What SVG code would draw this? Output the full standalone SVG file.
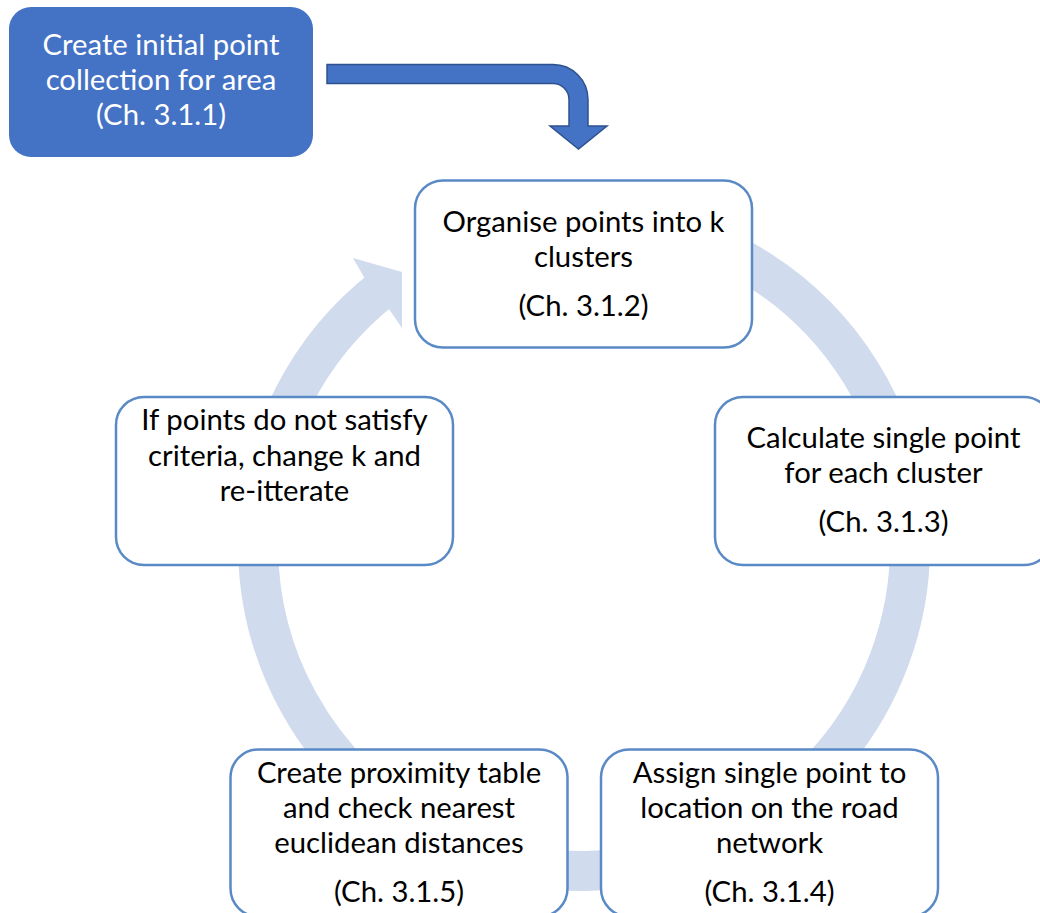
<svg xmlns="http://www.w3.org/2000/svg" width="1040" height="913" viewBox="0 0 1040 913">
<style>
.box{fill:#fff;stroke:#5A8AC6;stroke-width:2.5}
.t{font-family:Lato,"Liberation Sans",sans-serif;font-size:29.3px;fill:#000;text-anchor:middle}
.w{fill:#fff}
.ring{fill:none;stroke:#D0DBEE;stroke-width:40}
</style>
<rect width="1040" height="913" fill="#fff"/>
<g id="connectors">
<path class="ring" d="M612.4 220.2 A326 326 0 1 1 383.3 288.1"/>
<polygon fill="#D0DBEE" points="364,277 353,258 402,272 402,328 389,309"/>
<path d="M327 64.5 H553 A35 35 0 0 1 588 99.5 V126 H607 L578.5 149 L550 126 H569 V99.5 A16 16 0 0 0 553 83.5 H327 Z" fill="#4472C4" stroke="#2F528F" stroke-width="1.5"/>
</g>
<g id="start">
<rect x="9" y="7" width="304" height="150" rx="22" fill="#4472C4"/>
<text class="t w" x="161" y="55">Create initial point</text>
<text class="t w" x="161" y="90">collection for area</text>
<text class="t w" x="161" y="125">(Ch. 3.1.1)</text>
</g>
<g id="organise">
<rect class="box" x="415" y="180.5" width="337" height="167" rx="28"/>
<text class="t" x="583.5" y="231.5">Organise points into k</text>
<text class="t" x="583.5" y="267">clusters</text>
<text class="t" x="583.5" y="315.5">(Ch. 3.1.2)</text>
</g>
<g id="calculate">
<rect class="box" x="715" y="397" width="337" height="168" rx="28"/>
<text class="t" x="883.5" y="448.3">Calculate single point</text>
<text class="t" x="883.5" y="483.3">for each cluster</text>
<text class="t" x="883.5" y="531.7">(Ch. 3.1.3)</text>
</g>
<g id="assign">
<rect class="box" x="601" y="749.5" width="337" height="167" rx="28"/>
<text class="t" x="769.5" y="782.7">Assign single point to</text>
<text class="t" x="769.5" y="818.3">location on the road</text>
<text class="t" x="769.5" y="853.3">network</text>
<text class="t" x="769.5" y="901.7">(Ch. 3.1.4)</text>
</g>
<g id="proximity">
<rect class="box" x="230.5" y="749.5" width="337" height="167" rx="28"/>
<text class="t" x="399" y="782.7">Create proximity table</text>
<text class="t" x="399" y="818.3">and check nearest</text>
<text class="t" x="399" y="853.3">euclidean distances</text>
<text class="t" x="399" y="901.7">(Ch. 3.1.5)</text>
</g>
<g id="iterate">
<rect class="box" x="116" y="397" width="337" height="168" rx="28"/>
<text class="t" x="284.5" y="430">If points do not satisfy</text>
<text class="t" x="284.5" y="466">criteria, change k and</text>
<text class="t" x="284.5" y="501">re-itterate</text>
</g>
</svg>
